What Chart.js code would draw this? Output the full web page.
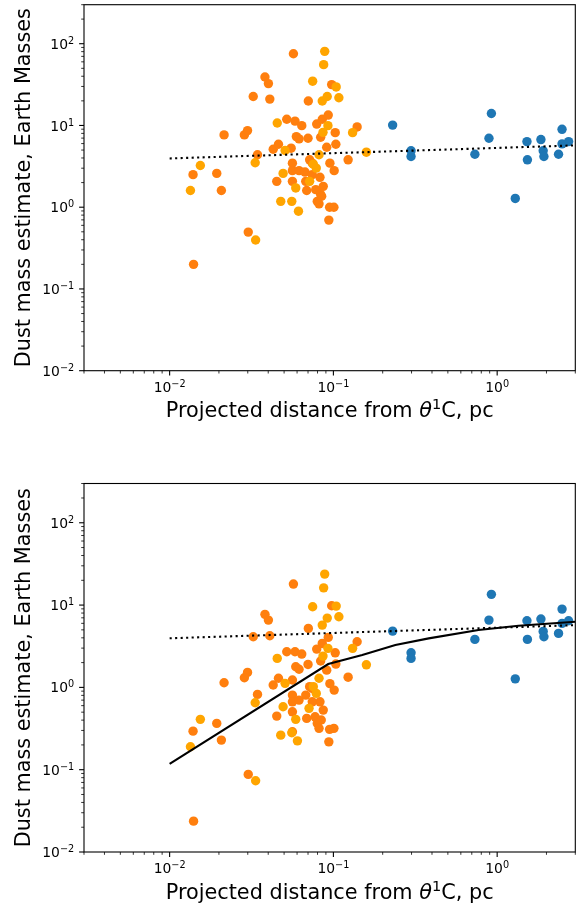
<!DOCTYPE html>
<html>
<head>
<meta charset="utf-8">
<script src="https://cdn.jsdelivr.net/npm/chart.js@4.4.1/dist/chart.umd.min.js"></script>
<style>
  html, body { margin: 0; padding: 0; background: #fff; }
  #wrap { position: relative; width: 580px; height: 909px; }
  canvas { position: absolute; left: 0; }
</style>
</head>
<body>
<div id="wrap">
  <canvas id="upper" width="580" height="455" style="top:0px"></canvas>
  <canvas id="lower" width="580" height="454" style="top:455px"></canvas>
</div>
<script>
const FONT = 'DejaVu Sans';

// ---- Upper panel: dust masses as measured ----
const upperOrangeX = [0.0140, 0.0139, 0.0194, 0.0207, 0.0215, 0.0286, 0.0299, 0.0302, 0.0324, 0.0382,
  0.0401, 0.0409, 0.0344, 0.0451, 0.0429, 0.0462, 0.0519, 0.0583, 0.0570, 0.0552,
  0.0562, 0.0562, 0.0562, 0.0594, 0.0617, 0.0641, 0.0700, 0.0703, 0.0791, 0.0836,
  0.0855, 0.0930, 0.0910, 0.0976, 0.1035, 0.1026, 0.1396, 0.1230, 0.0952, 0.1011,
  0.0716, 0.0743, 0.0617, 0.0671, 0.0743, 0.0828, 0.0678, 0.0867, 0.0687, 0.0780,
  0.0836, 0.0848, 0.0797, 0.0817, 0.0948, 0.1007, 0.0938];
const upperOrangeY = [0.20, 2.50, 2.59, 1.60, 7.66, 7.66, 8.65, 0.496, 22.6, 39.2,
  32.5, 21.0, 4.38, 2.07, 5.12, 5.89, 11.9, 11.3, 75.4, 5.27,
  3.46, 2.80, 2.07, 7.31, 6.85, 9.95, 6.97, 19.9, 10.4, 7.17,
  11.9, 13.4, 5.41, 31.6, 5.89, 8.17, 9.59, 3.80, 3.46, 2.80,
  3.80, 3.46, 2.80, 2.69, 2.50, 2.32, 2.07, 1.80, 1.60, 1.64,
  1.43, 1.36, 1.18, 1.10, 1.00, 1.00, 0.695];

const upperGoldX = [0.0134, 0.0154, 0.0333, 0.0335, 0.0454, 0.0507, 0.0493, 0.0477, 0.0557, 0.0589,
  0.0612, 0.0885, 0.0872, 0.0747, 0.1040, 0.0855, 0.0917, 0.108, 0.0926, 0.131,
  0.0864, 0.0817, 0.159, 0.0786, 0.0754, 0.0716];
const upperGoldY = [1.60, 3.24, 3.50, 0.397, 10.7, 4.94, 2.59, 1.18, 1.18, 1.72,
  0.894, 80.6, 55.4, 34.8, 29.6, 19.9, 22.6, 21.8, 9.95, 8.17,
  8.24, 4.38, 4.71, 3.01, 3.36, 2.07];

// ---- Lower panel: dust masses after correction ----
const lowerOrangeX = [0.0570, 0.0382, 0.0401, 0.0324, 0.0409, 0.0519, 0.0583, 0.0589, 0.0299, 0.0286,
  0.0215, 0.0462, 0.0429, 0.0562, 0.0344, 0.0562, 0.0562, 0.0139, 0.0194, 0.0451,
  0.0562, 0.0207, 0.0302, 0.0140, 0.0976, 0.0703, 0.0930, 0.0855, 0.0641, 0.0791,
  0.1396, 0.1026, 0.0700, 0.0617, 0.0836, 0.1035, 0.0910, 0.1230, 0.0952, 0.1011,
  0.0716, 0.0743, 0.0617, 0.0678, 0.0828, 0.0743, 0.0687, 0.0773, 0.0843, 0.0867,
  0.0562, 0.0797, 0.0817, 0.0948, 0.1007, 0.0938];
const lowerOrangeY = [18.0, 7.71, 6.57, 4.12, 4.24, 2.71, 2.71, 1.78, 1.52, 1.31,
  1.14, 1.29, 1.07, 1.23, 0.822, 0.806, 0.668, 0.294, 0.365, 0.448,
  0.505, 0.229, 0.0877, 0.0237, 9.80, 5.21, 4.05, 3.42, 2.54, 2.92,
  3.58, 2.63, 1.90, 1.66, 2.09, 1.92, 1.62, 1.33, 1.11, 0.927,
  1.02, 0.97, 0.701, 0.806, 0.668, 0.668, 0.420, 0.439, 0.401, 0.530,
  0.289, 0.365, 0.318, 0.309, 0.318, 0.218];

const lowerGoldX = [0.0454, 0.0507, 0.0333, 0.0493, 0.0154, 0.0589, 0.0134, 0.0477, 0.0557, 0.0603,
  0.0335, 0.0885, 0.0872, 0.0747, 0.1040, 0.0855, 0.0917, 0.108, 0.0926, 0.131,
  0.0864, 0.0817, 0.159, 0.0754, 0.0786, 0.0710];
const lowerGoldY = [2.25, 1.12, 0.650, 0.581, 0.409, 0.409, 0.190, 0.263, 0.281, 0.224,
  0.0733, 23.8, 16.2, 9.54, 9.72, 5.71, 6.95, 7.21, 2.98, 2.98,
  2.40, 1.29, 1.88, 1.02, 0.845, 0.556];

// ---- Distant discs (blue), same distances in both panels ----
const fieldX = [0.230, 0.298, 0.298, 0.731, 0.891, 0.922, 1.29, 1.52, 1.53, 1.85,
  1.91, 1.93, 2.37, 2.49, 2.49, 2.73];
const upperFieldY = [10.1, 4.90, 4.17, 4.45, 6.97, 14.0, 1.28, 6.35, 3.80, 6.72,
  4.90, 4.17, 4.45, 8.97, 5.96, 6.35];
const lowerFieldY = [4.83, 2.63, 2.25, 3.83, 6.57, 13.5, 1.27, 6.45, 3.83, 6.76,
  4.79, 4.12, 4.53, 8.94, 6.00, 6.45];

// ---- Reference curves ----
const trendX = [0.01, 3.0];
const trendY = [3.95, 5.70];
const modelX = [0.01, 0.093, 0.15, 0.239, 0.382, 0.769, 1.35, 3.0];
const modelY = [0.118, 1.92, 2.47, 3.27, 3.94, 4.97, 5.60, 6.27];

// ---- Axis ticks (labels written as base^exponent) ----
const xRange = [0.003, 3];
const yRange = [0.01, 300];
const xTickValues = [0.01, 0.1, 1];
const xTickLabels = ['10^\u22122', '10^\u22121', '10^0'];
const yTickValues = [0.01, 0.1, 1, 10, 100];
const yTickLabels = ['10^\u22122', '10^\u22121', '10^0', '10^1', '10^2'];

const C_ORANGE = '#ff7f0e';
const C_GOLD = '#ffa500';
const C_BLUE = '#1f77b4';

const TICK_PX = 13.9, SUP_PX = 9.7, TITLE_PX = 20.8;

function pts(xs, ys) { return xs.map((x, i) => ({ x: x, y: ys[i] })); }

function scatterSet(xs, ys, color, order) {
  return { data: pts(xs, ys), backgroundColor: color, borderWidth: 0,
           pointRadius: 4.7, pointHoverRadius: 4.7, order: order };
}
function lineSet(xs, ys, dash) {
  return { data: pts(xs, ys), showLine: true, borderColor: '#000', borderWidth: 2.1,
           borderDash: dash, pointRadius: 0, fill: false, tension: 0, order: 0 };
}

// Draws "10" with a raised exponent; align: 'right' or 'center'
function drawPower(ctx, text, x, baseline, align) {
  const [base, exp] = text.split('^');
  ctx.font = TICK_PX + 'px "' + FONT + '"';
  const wb = ctx.measureText(base).width;
  ctx.font = SUP_PX + 'px "' + FONT + '"';
  const we = ctx.measureText(exp).width;
  const w = wb + we;
  let x0 = align === 'right' ? x - w : x - w / 2;
  ctx.font = TICK_PX + 'px "' + FONT + '"';
  ctx.fillText(base, x0, baseline);
  ctx.font = SUP_PX + 'px "' + FONT + '"';
  ctx.fillText(exp, x0 + wb, baseline - 5);
}

// Frame, log ticks (major + minor), tick labels and the x-axis label
const axesDecor = {
  id: 'axesDecor',
  afterDatasetsDraw(chart) {
    const { ctx, chartArea: a, scales } = chart;
    const xs = scales.x, ys = scales.y;
    ctx.save();
    ctx.strokeStyle = '#000';
    const within = (v, r) => v >= r[0] * (1 - 1e-9) && v <= r[1] * (1 + 1e-9);
    for (let e = -4; e <= 3; e++) {
      const d = Math.pow(10, e);
      for (let k = 1; k <= 9; k++) {
        const v = k * d;
        const major = k === 1;
        const len = major ? 4.9 : 2.8;
        ctx.lineWidth = major ? 1.1 : 0.8;
        if (within(v, xRange)) {
          const p = xs.getPixelForValue(v);
          ctx.beginPath(); ctx.moveTo(p, a.bottom); ctx.lineTo(p, a.bottom + len); ctx.stroke();
        }
        if (within(v, yRange)) {
          const p = ys.getPixelForValue(v);
          ctx.beginPath(); ctx.moveTo(a.left, p); ctx.lineTo(a.left - len, p); ctx.stroke();
        }
      }
    }
    ctx.lineWidth = 1.1;
    ctx.strokeRect(a.left, a.top, a.right - a.left, a.bottom - a.top);

    ctx.fillStyle = '#000';
    ctx.textBaseline = 'alphabetic';
    ctx.textAlign = 'left';
    xs.ticks.forEach((t, i) => {
      drawPower(ctx, xTickLabels[i], xs.getPixelForValue(t.value), a.bottom + 21, 'center');
    });
    ys.ticks.forEach((t, i) => {
      drawPower(ctx, yTickLabels[i], a.left - 9.8, ys.getPixelForValue(t.value) + 5.1, 'right');
    });

    // x-axis title: Projected distance from θ¹C, pc
    const parts = [
      { t: 'Projected distance from ', f: TITLE_PX + 'px "' + FONT + '"', dy: 0 },
      { t: '\u03B8', f: 'italic ' + TITLE_PX + 'px "' + FONT + '"', dy: 0 },
      { t: '1', f: (TITLE_PX * 0.7) + 'px "' + FONT + '"', dy: -8 },
      { t: 'C, pc', f: TITLE_PX + 'px "' + FONT + '"', dy: 0 }
    ];
    let total = 0;
    parts.forEach(p => { ctx.font = p.f; p.w = ctx.measureText(p.t).width; total += p.w; });
    let x0 = (a.left + a.right) / 2 - total / 2;
    const base = a.bottom + 46.5;
    parts.forEach(p => { ctx.font = p.f; ctx.fillText(p.t, x0, base + p.dy); x0 += p.w; });
    ctx.restore();
  }
};

function buildChart(id, geom, datasets) {
  return new Chart(document.getElementById(id), {
    type: 'scatter',
    data: { datasets: datasets },
    options: {
      responsive: false,
      animation: false,
      events: [],
      devicePixelRatio: 1,
      layout: { padding: { top: geom.top, right: 2.5, left: 0, bottom: 0 } },
      plugins: { legend: { display: false }, tooltip: { enabled: false } },
      scales: {
        x: {
          type: 'logarithmic', position: 'bottom', min: xRange[0], max: xRange[1],
          grid: { display: false }, border: { display: false },
          afterBuildTicks: s => { s.ticks = xTickValues.map(v => ({ value: v })); },
          afterFit: s => { s.height = geom.xAxisH; s.paddingLeft = 0; s.paddingRight = 0; },
          ticks: { display: false, autoSkip: false }
        },
        y: {
          type: 'logarithmic', position: 'left', min: yRange[0], max: yRange[1],
          grid: { display: false }, border: { display: false },
          afterBuildTicks: s => { s.ticks = yTickValues.map(v => ({ value: v })); },
          afterFit: s => { s.width = 84; s.paddingTop = 0; s.paddingBottom = 0; },
          ticks: { display: false, autoSkip: false },
          title: { display: true, text: 'Dust mass estimate, Earth Masses', color: '#000',
                   font: { family: FONT, size: TITLE_PX }, padding: { top: 12.6, bottom: 0 } }
        }
      }
    },
    plugins: [axesDecor]
  });
}

buildChart('upper', { top: 2.7, xAxisH: 84.3 }, [
  lineSet(trendX, trendY, [2.1, 3.4]),
  scatterSet(upperGoldX, upperGoldY, C_GOLD, 1),
  scatterSet(upperOrangeX, upperOrangeY, C_ORANGE, 2),
  scatterSet(fieldX, upperFieldY, C_BLUE, 3)
]);

buildChart('lower', { top: 28.5, xAxisH: 57 }, [
  lineSet(trendX, trendY, [2.1, 3.4]),
  lineSet(modelX, modelY, []),
  scatterSet(lowerGoldX, lowerGoldY, C_GOLD, 1),
  scatterSet(lowerOrangeX, lowerOrangeY, C_ORANGE, 2),
  scatterSet(fieldX, lowerFieldY, C_BLUE, 3)
]);
</script>
</body>
</html>
